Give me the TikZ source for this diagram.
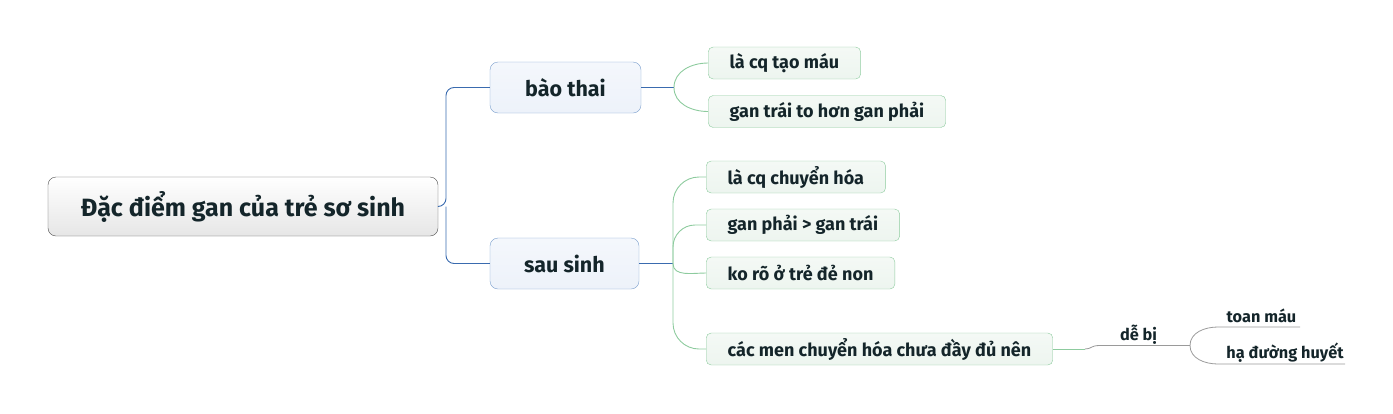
\documentclass[tikz,border=0pt]{standalone}
\usepackage{fontspec}
\setmainfont{Fira Sans}
\usetikzlibrary{calc}
\definecolor{ink}{HTML}{14252A}
\definecolor{rootline}{HTML}{505050}
\definecolor{rootfill}{HTML}{E6E6E6}
\definecolor{topicline}{HTML}{7A9FCD}
\definecolor{topicfill}{HTML}{EDF2FA}
\definecolor{branch}{HTML}{3A6BAF}
\definecolor{leafline}{HTML}{8DCB9E}
\definecolor{leaffill}{HTML}{EDF5EF}
\definecolor{twig}{HTML}{9A9A9A}
\tikzset{
	root/.style={draw=rootline, rounded corners=8pt, top color=white, bottom color=rootfill, text=ink, font=\bfseries\fontsize{25}{29}\selectfont, minimum width=390pt, minimum height=59pt},
	topic/.style={draw=topicline, top color=topicfill!60!white, bottom color=topicfill, rounded corners=8pt, text=ink, font=\bfseries\fontsize{21.5}{25}\selectfont, minimum height=51pt},
	leaf/.style={draw=leafline, top color=leaffill!60!white, bottom color=leaffill, rounded corners=5pt, text=ink, font=\bfseries\fontsize{18}{21}\selectfont, minimum height=32pt, inner xsep=21.5pt, anchor=west},
	note/.style={text=ink, font=\bfseries\fontsize{16.3}{19}\selectfont, inner sep=1pt, anchor=base},
	blueline/.style={draw=branch, line width=0.9pt},
	greenline/.style={draw=leafline, line width=0.9pt},
	grayline/.style={draw=twig, line width=0.8pt}
}
\begin{document}
\begin{tikzpicture}[x=1pt, y=-1pt]
	\useasboundingbox (0,0) rectangle (1393,413);
	\node [root] (root) at (243,206.5) {Đặc điểm gan của trẻ sơ sinh};
	\node [topic, minimum width=151pt] (baothai) at (565.5,87.5) {bào thai};
	\node [topic, minimum width=149pt] (sausinh) at (564.5,263.5) {sau sinh};
	\node [leaf] (taomau) at (708,63) {là cq tạo máu};
	\node [leaf] (gantrai) at (708,111.5) {gan trái to hơn gan phải};
	\node [leaf] (chuyenhoa) at (706,177) {là cq chuyển hóa};
	\node [leaf] (ganphai) at (706,225) {gan phải > gan trái};
	\node [leaf] (denon) at (706,273) {ko rõ ở trẻ đẻ non};
	\node [leaf] (men) at (706,349) {các men chuyển hóa chưa đầy đủ nên};
	\coordinate (hubA) at (446,206.5);
	\coordinate (hubB) at (674,87.5);
	\coordinate (hubC) at (673,263.5);
	\coordinate (bend) at (1085,349);
	\coordinate (hubD) at (1190,345.5);
	\coordinate (toanend) at (1300,327);
	\coordinate (haend) at (1345,364);
	\path (1138.5,340) node [note] (debi) {dễ bị};
	\path (1261.5,322.5) node [note] (toan) {toan máu};
	\path (1285,358.5) node [note] (hadh) {hạ đường huyết};
	% nhanh chinh
	\draw [blueline, rounded corners=8pt] (root.east) -- (hubA) |- (baothai.west);
	\draw [blueline, rounded corners=8pt] (hubA) |- (sausinh.west);
	\draw [blueline] (baothai.east) -- (hubB);
	\draw [blueline] (sausinh.east) -- (hubC);
	% nhanh la
	\draw [greenline] (hubB) to[out=90, in=180] (taomau.west);
	\draw [greenline] (hubB) to[out=-90, in=180] (gantrai.west);
	\draw [greenline, rounded corners=26pt] (hubC) |- (chuyenhoa.west);
	\draw [greenline, rounded corners=22pt] (hubC) |- (ganphai.west);
	\draw [greenline] (hubC) to[out=-90, in=180] (denon.west);
	\draw [greenline, rounded corners=26pt] (hubC) |- (men.west);
	% de bi
	\draw [greenline] (men.east) -- (bend);
	\draw [grayline] (bend) .. controls (1092,349) and (1090,345.5) .. (1100,345.5) -- (hubD);
	\draw [grayline] (hubD) to[out=90, in=180] (1218,327) -- (toanend);
	\draw [grayline] (hubD) to[out=-90, in=180] (1218,364) -- (haend);
\end{tikzpicture}
\end{document}
